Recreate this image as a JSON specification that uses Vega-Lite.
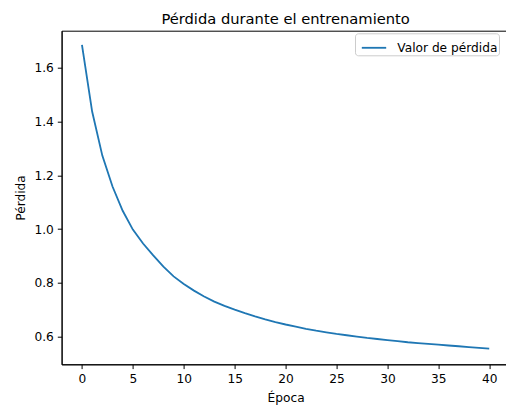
{
  "$schema": "https://vega.github.io/schema/vega-lite/v6.json",
  "width": 448,
  "height": 333.6,
  "autosize": {"type": "none"},
  "padding": {"left": 61.6, "top": 30.7, "right": 0, "bottom": 40.7},
  "background": "white",
  "title": {
    "text": "Pérdida durante el entrenamiento",
    "font": "DejaVu Sans",
    "fontSize": 14.7,
    "fontWeight": "normal",
    "color": "black",
    "anchor": "middle",
    "offset": 4.2
  },
  "data": {
    "values": [
      {"epoca": 0, "perdida": 1.685, "serie": "Valor de pérdida"},
      {"epoca": 1, "perdida": 1.437, "serie": "Valor de pérdida"},
      {"epoca": 2, "perdida": 1.273, "serie": "Valor de pérdida"},
      {"epoca": 3, "perdida": 1.158, "serie": "Valor de pérdida"},
      {"epoca": 4, "perdida": 1.068, "serie": "Valor de pérdida"},
      {"epoca": 5, "perdida": 0.998, "serie": "Valor de pérdida"},
      {"epoca": 6, "perdida": 0.946, "serie": "Valor de pérdida"},
      {"epoca": 7, "perdida": 0.902, "serie": "Valor de pérdida"},
      {"epoca": 8, "perdida": 0.860, "serie": "Valor de pérdida"},
      {"epoca": 9, "perdida": 0.824, "serie": "Valor de pérdida"},
      {"epoca": 10, "perdida": 0.796, "serie": "Valor de pérdida"},
      {"epoca": 11, "perdida": 0.771, "serie": "Valor de pérdida"},
      {"epoca": 12, "perdida": 0.749, "serie": "Valor de pérdida"},
      {"epoca": 13, "perdida": 0.730, "serie": "Valor de pérdida"},
      {"epoca": 14, "perdida": 0.714, "serie": "Valor de pérdida"},
      {"epoca": 15, "perdida": 0.700, "serie": "Valor de pérdida"},
      {"epoca": 16, "perdida": 0.687, "serie": "Valor de pérdida"},
      {"epoca": 17, "perdida": 0.675, "serie": "Valor de pérdida"},
      {"epoca": 18, "perdida": 0.664, "serie": "Valor de pérdida"},
      {"epoca": 19, "perdida": 0.654, "serie": "Valor de pérdida"},
      {"epoca": 20, "perdida": 0.645, "serie": "Valor de pérdida"},
      {"epoca": 21, "perdida": 0.637, "serie": "Valor de pérdida"},
      {"epoca": 22, "perdida": 0.629, "serie": "Valor de pérdida"},
      {"epoca": 23, "perdida": 0.622, "serie": "Valor de pérdida"},
      {"epoca": 24, "perdida": 0.616, "serie": "Valor de pérdida"},
      {"epoca": 25, "perdida": 0.610, "serie": "Valor de pérdida"},
      {"epoca": 26, "perdida": 0.605, "serie": "Valor de pérdida"},
      {"epoca": 27, "perdida": 0.600, "serie": "Valor de pérdida"},
      {"epoca": 28, "perdida": 0.595, "serie": "Valor de pérdida"},
      {"epoca": 29, "perdida": 0.591, "serie": "Valor de pérdida"},
      {"epoca": 30, "perdida": 0.587, "serie": "Valor de pérdida"},
      {"epoca": 31, "perdida": 0.583, "serie": "Valor de pérdida"},
      {"epoca": 32, "perdida": 0.579, "serie": "Valor de pérdida"},
      {"epoca": 33, "perdida": 0.576, "serie": "Valor de pérdida"},
      {"epoca": 34, "perdida": 0.573, "serie": "Valor de pérdida"},
      {"epoca": 35, "perdida": 0.570, "serie": "Valor de pérdida"},
      {"epoca": 36, "perdida": 0.567, "serie": "Valor de pérdida"},
      {"epoca": 37, "perdida": 0.564, "serie": "Valor de pérdida"},
      {"epoca": 38, "perdida": 0.561, "serie": "Valor de pérdida"},
      {"epoca": 39, "perdida": 0.558, "serie": "Valor de pérdida"},
      {"epoca": 40, "perdida": 0.555, "serie": "Valor de pérdida"}
    ]
  },
  "mark": {"type": "line", "strokeWidth": 1.83, "clip": true},
  "encoding": {
    "x": {
      "field": "epoca",
      "type": "quantitative",
      "title": "Época",
      "scale": {"domain": [-2, 42], "nice": false, "zero": false},
      "axis": {"values": [0, 5, 10, 15, 20, 25, 30, 35, 40], "format": "d", "titlePadding": 7}
    },
    "y": {
      "field": "perdida",
      "type": "quantitative",
      "title": "Pérdida",
      "scale": {"domain": [0.497, 1.7375], "nice": false, "zero": false},
      "axis": {"values": [0.6, 0.8, 1.0, 1.2, 1.4, 1.6], "format": ".1f", "titlePadding": 6}
    },
    "color": {
      "field": "serie",
      "type": "nominal",
      "scale": {"range": ["#1f77b4"]},
      "legend": {
        "title": null,
        "orient": "none",
        "legendX": 293.4,
        "legendY": 2.6,
        "symbolType": "stroke",
        "symbolSize": 595,
        "symbolStrokeWidth": 1.83,
        "symbolOffset": 4.5,
        "labelOffset": 9.8,
        "labelFont": "DejaVu Sans",
        "labelFontSize": 12.2,
        "labelColor": "black",
        "padding": 1,
        "strokeColor": "#cccccc",
        "fillColor": "rgba(255,255,255,0.8)",
        "cornerRadius": 3
      }
    }
  },
  "config": {
    "view": {"stroke": "black", "strokeWidth": 1},
    "axis": {
      "grid": false,
      "domainColor": "black",
      "domainWidth": 1,
      "tickColor": "black",
      "tickWidth": 1,
      "tickSize": 4.3,
      "labelFont": "DejaVu Sans",
      "labelFontSize": 12.2,
      "labelColor": "black",
      "labelPadding": 4,
      "titleFont": "DejaVu Sans",
      "titleFontSize": 12.2,
      "titleFontWeight": "normal",
      "titleColor": "black"
    }
  }
}
